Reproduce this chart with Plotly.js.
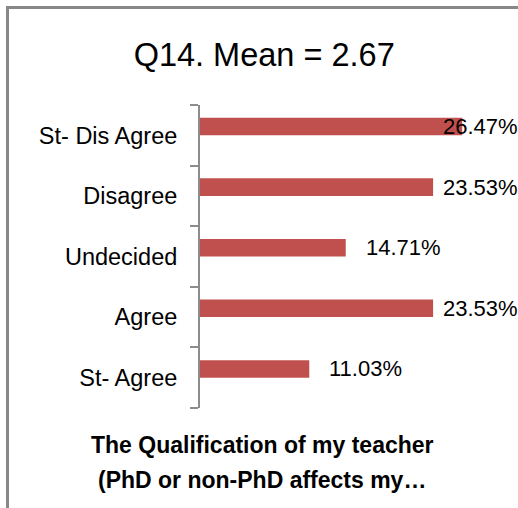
<!DOCTYPE html>
<html>
<head>
<meta charset="utf-8">
<script src="https://cdn.plot.ly/plotly-3.0.1.min.js"></script>
<style>
  body { margin: 0; background: #fff; }
  #wrap { position: relative; width: 518px; height: 508px; }
  #frame {
    position: absolute; left: 6px; top: 6px; right: -10px; bottom: -10px;
    border-left: 3px solid #888888; border-top: 3px solid #888888;
    pointer-events: none;
  }
  #chart { position: absolute; left: 0; top: 0; width: 518px; height: 508px; }
</style>
</head>
<body>
<div id="wrap">
  <div id="chart"></div>
  <div id="frame"></div>
</div>
<script>
// categories bottom to top, as drawn on the axis
const categories = ['St- Agree', 'Agree', 'Undecided', 'Disagree', 'St- Dis Agree'];
const percents = [11.03, 23.53, 14.71, 23.53, 26.47];
const percentLabels = ['11.03%', '23.53%', '14.71%', '23.53%', '26.47%'];

const chartTitle = 'Q14. Mean = 2.67';
const axisTitleLines = ['The Qualification of my teacher', '(PhD or non-PhD affects my…'];

const W = 518, H = 508;
const marginL = 200, marginR = 0;
const xMax = 32.1;
const pxPerUnit = (W - marginL - marginR) / xMax;

const barWidth = 0.29;
const labelGap = 18;          // px between bar end and label
const labelMaxLeft = 441;     // labels are kept from running off the right edge

const font = 'Liberation Sans, Arial, sans-serif';

// data labels, pushed left when they would run past the chart edge
const annotations = percents.map((v, i) => {
  const left = Math.min(marginL + v * pxPerUnit + labelGap, labelMaxLeft);
  return {
    x: (left - marginL) / pxPerUnit,
    y: i + barWidth / 2,
    xref: 'x', yref: 'y',
    text: percentLabels[i],
    showarrow: false,
    xanchor: 'left',
    yanchor: 'middle',
    font: { family: font, size: 22, color: '#000000' }
  };
});

// bottom axis title, one annotation per line
axisTitleLines.forEach((line, i) => {
  annotations.push({
    xref: 'paper', yref: 'paper',
    x: 0.195, y: 0,
    xanchor: 'center', yanchor: 'middle',
    yshift: -37 - i * 35,
    text: '<b>' + line + '</b>',
    showarrow: false,
    font: { family: font, size: 23, color: '#000000' }
  });
});

const data = [{
  type: 'bar',
  orientation: 'h',
  x: percents,
  y: categories,
  width: barWidth,
  offset: 0,
  marker: { color: '#C0504D', line: { width: 0 } },
  hoverinfo: 'none'
}];

const layout = {
  width: W,
  height: H,
  paper_bgcolor: '#ffffff',
  plot_bgcolor: '#ffffff',
  margin: { l: marginL, r: marginR, t: 105, b: 100 },
  showlegend: false,
  title: {
    text: chartTitle,
    x: 0.51, xanchor: 'center',
    y: 0.892, yanchor: 'middle',
    font: { family: font, size: 32.5, color: '#000000' }
  },
  xaxis: {
    range: [0, xMax],
    visible: false,
    fixedrange: true
  },
  yaxis: {
    type: 'category',
    categoryorder: 'array',
    categoryarray: categories,
    range: [-0.5, categories.length - 0.5],
    showline: true,
    linecolor: '#8c8c8c',
    linewidth: 2,
    ticks: 'outside',
    tickson: 'boundaries',
    ticklen: 8,
    tickwidth: 2,
    tickcolor: '#8c8c8c',
    ticklabelstandoff: 16,
    showgrid: false,
    zeroline: false,
    tickfont: { family: font, size: 23.5, color: '#000000' },
    fixedrange: true
  },
  annotations: annotations
};

Plotly.newPlot('chart', data, layout, { displayModeBar: false, staticPlot: true });
</script>
</body>
</html>
